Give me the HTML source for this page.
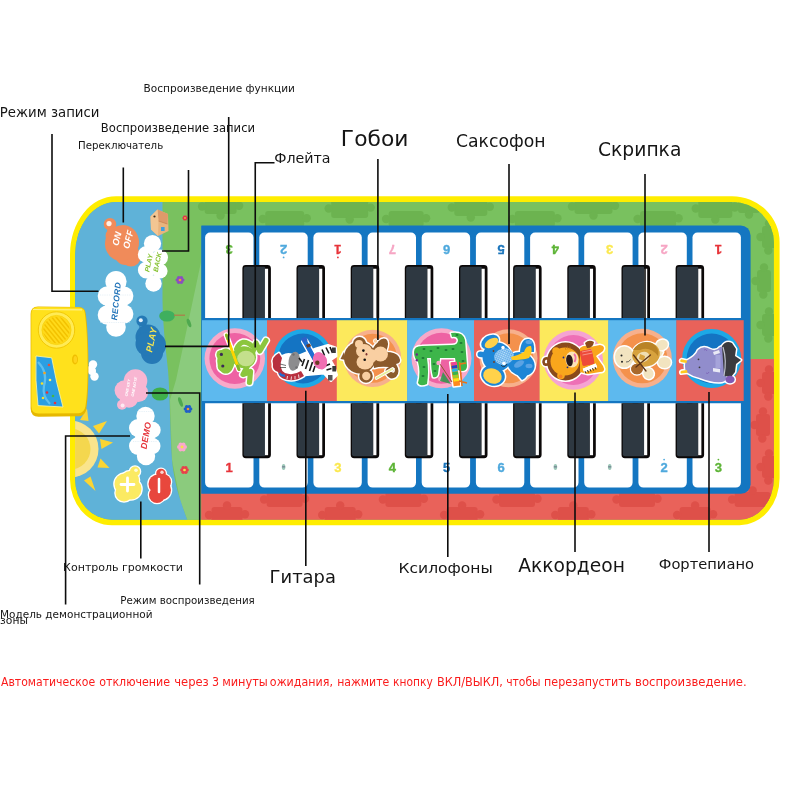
<!DOCTYPE html>
<html lang="ru"><head><meta charset="utf-8"><title>Музыкальный коврик</title>
<style>
html,body{margin:0;padding:0;background:#fff}
body{width:800px;height:800px;overflow:hidden;position:relative;font-family:"DejaVu Sans","Liberation Sans",sans-serif}
svg{position:absolute;left:0;top:0;display:block;will-change:transform}
</style></head><body>
<svg width="800" height="800" viewBox="0 0 800 800">
<defs>
<clipPath id="matclip"><path d="M116.1,202.0 H732.1 A41.8,40.5 0 0 1 773.9,242.5 V478.2 A34.3,41.5 0 0 1 739.6,519.7 H112.1 A37,40.5 0 0 1 75.1,479.2 V254.5 A41,52.5 0 0 1 116.1,202.0 Z"/></clipPath>
</defs>
<path d="M116.0,196.2 H732.1 A47.5,46 0 0 1 779.6,242.2 V478.2 A40,47 0 0 1 739.6,525.2 H112.0 A42,46 0 0 1 70.0,479.2 V254.2 A46,58 0 0 1 116.0,196.2 Z" fill="#FFED00"/>
<g clip-path="url(#matclip)">
<rect x="70" y="196" width="712" height="330" fill="#79C15F"/>
<rect x="204.6" y="199.0" width="32.0" height="15.0" rx="3" fill="#6CB350"/><circle cx="202.1" cy="206.5" r="4.2" fill="#6CB350"/><circle cx="239.1" cy="205.8" r="4.2" fill="#6CB350"/><circle cx="220.6" cy="215.5" r="4.2" fill="#6CB350"/>
<rect x="265.2" y="211.0" width="39.0" height="16.0" rx="3" fill="#6CB350"/><circle cx="262.7" cy="219.0" r="4.2" fill="#6CB350"/><circle cx="306.7" cy="218.2" r="4.2" fill="#6CB350"/><circle cx="284.7" cy="228.5" r="4.2" fill="#6CB350"/>
<rect x="331.2" y="199.0" width="37.0" height="19.0" rx="3" fill="#6CB350"/><circle cx="328.7" cy="208.5" r="4.2" fill="#6CB350"/><circle cx="370.7" cy="207.6" r="4.2" fill="#6CB350"/><circle cx="349.7" cy="219.5" r="4.2" fill="#6CB350"/>
<rect x="388.6" y="211.0" width="35.0" height="16.0" rx="3" fill="#6CB350"/><circle cx="386.1" cy="219.0" r="4.2" fill="#6CB350"/><circle cx="426.1" cy="218.2" r="4.2" fill="#6CB350"/><circle cx="406.1" cy="228.5" r="4.2" fill="#6CB350"/>
<rect x="454.3" y="199.0" width="33.0" height="17.0" rx="3" fill="#6CB350"/><circle cx="451.8" cy="207.5" r="4.2" fill="#6CB350"/><circle cx="489.8" cy="206.7" r="4.2" fill="#6CB350"/><circle cx="470.8" cy="217.5" r="4.2" fill="#6CB350"/>
<rect x="514.9" y="211.0" width="40.0" height="16.0" rx="3" fill="#6CB350"/><circle cx="512.4" cy="219.0" r="4.2" fill="#6CB350"/><circle cx="557.4" cy="218.2" r="4.2" fill="#6CB350"/><circle cx="534.9" cy="228.5" r="4.2" fill="#6CB350"/>
<rect x="574.5" y="199.0" width="38.0" height="15.0" rx="3" fill="#6CB350"/><circle cx="572.0" cy="206.5" r="4.2" fill="#6CB350"/><circle cx="615.0" cy="205.8" r="4.2" fill="#6CB350"/><circle cx="593.5" cy="215.5" r="4.2" fill="#6CB350"/>
<rect x="640.1" y="211.0" width="36.0" height="16.0" rx="3" fill="#6CB350"/><circle cx="637.6" cy="219.0" r="4.2" fill="#6CB350"/><circle cx="678.6" cy="218.2" r="4.2" fill="#6CB350"/><circle cx="658.1" cy="228.5" r="4.2" fill="#6CB350"/>
<rect x="698.3" y="199.0" width="34.0" height="19.0" rx="3" fill="#6CB350"/><circle cx="695.8" cy="208.5" r="4.2" fill="#6CB350"/><circle cx="734.8" cy="207.6" r="4.2" fill="#6CB350"/><circle cx="715.3" cy="219.5" r="4.2" fill="#6CB350"/>
<rect x="762.0" y="226.0" width="14.0" height="22.0" rx="3" fill="#6CB350"/><circle cx="769.0" cy="223.5" r="4.2" fill="#6CB350"/><circle cx="768.3" cy="250.5" r="4.2" fill="#6CB350"/><circle cx="760.5" cy="237.0" r="4.2" fill="#6CB350"/>
<rect x="757.0" y="270.0" width="14.0" height="22.0" rx="3" fill="#6CB350"/><circle cx="764.0" cy="267.5" r="4.2" fill="#6CB350"/><circle cx="763.3" cy="294.5" r="4.2" fill="#6CB350"/><circle cx="755.5" cy="281.0" r="4.2" fill="#6CB350"/>
<rect x="762.0" y="314.0" width="14.0" height="22.0" rx="3" fill="#6CB350"/><circle cx="769.0" cy="311.5" r="4.2" fill="#6CB350"/><circle cx="768.3" cy="338.5" r="4.2" fill="#6CB350"/><circle cx="760.5" cy="325.0" r="4.2" fill="#6CB350"/>
<rect x="738.0" y="199.0" width="22.0" height="14.0" rx="3" fill="#6CB350"/><circle cx="735.5" cy="206.0" r="4.2" fill="#6CB350"/><circle cx="762.5" cy="205.3" r="4.2" fill="#6CB350"/><circle cx="749.0" cy="214.5" r="4.2" fill="#6CB350"/>
<path d="M201.2,480 H740 V359 H780 V526 H201.2 Z" fill="#E9625A"/>
<rect x="211.5" y="507.0" width="31.0" height="16.0" rx="3" fill="#DE5049"/><circle cx="209.0" cy="515.0" r="4.2" fill="#DE5049"/><circle cx="245.0" cy="514.2" r="4.2" fill="#DE5049"/><circle cx="227.0" cy="505.5" r="4.2" fill="#DE5049"/>
<rect x="266.6" y="492.0" width="36.0" height="15.0" rx="3" fill="#DE5049"/><circle cx="264.1" cy="499.5" r="4.2" fill="#DE5049"/><circle cx="305.1" cy="498.8" r="4.2" fill="#DE5049"/><circle cx="284.6" cy="490.5" r="4.2" fill="#DE5049"/>
<rect x="324.7" y="507.0" width="31.0" height="16.0" rx="3" fill="#DE5049"/><circle cx="322.2" cy="515.0" r="4.2" fill="#DE5049"/><circle cx="358.2" cy="514.2" r="4.2" fill="#DE5049"/><circle cx="340.2" cy="505.5" r="4.2" fill="#DE5049"/>
<rect x="385.4" y="492.0" width="36.0" height="15.0" rx="3" fill="#DE5049"/><circle cx="382.9" cy="499.5" r="4.2" fill="#DE5049"/><circle cx="423.9" cy="498.8" r="4.2" fill="#DE5049"/><circle cx="403.4" cy="490.5" r="4.2" fill="#DE5049"/>
<rect x="446.6" y="507.0" width="31.0" height="16.0" rx="3" fill="#DE5049"/><circle cx="444.1" cy="515.0" r="4.2" fill="#DE5049"/><circle cx="480.1" cy="514.2" r="4.2" fill="#DE5049"/><circle cx="462.1" cy="505.5" r="4.2" fill="#DE5049"/>
<rect x="499.0" y="492.0" width="36.0" height="15.0" rx="3" fill="#DE5049"/><circle cx="496.5" cy="499.5" r="4.2" fill="#DE5049"/><circle cx="537.5" cy="498.8" r="4.2" fill="#DE5049"/><circle cx="517.0" cy="490.5" r="4.2" fill="#DE5049"/>
<rect x="557.8" y="507.0" width="31.0" height="16.0" rx="3" fill="#DE5049"/><circle cx="555.3" cy="515.0" r="4.2" fill="#DE5049"/><circle cx="591.3" cy="514.2" r="4.2" fill="#DE5049"/><circle cx="573.3" cy="505.5" r="4.2" fill="#DE5049"/>
<rect x="619.0" y="492.0" width="36.0" height="15.0" rx="3" fill="#DE5049"/><circle cx="616.5" cy="499.5" r="4.2" fill="#DE5049"/><circle cx="657.5" cy="498.8" r="4.2" fill="#DE5049"/><circle cx="637.0" cy="490.5" r="4.2" fill="#DE5049"/>
<rect x="679.6" y="507.0" width="31.0" height="16.0" rx="3" fill="#DE5049"/><circle cx="677.1" cy="515.0" r="4.2" fill="#DE5049"/><circle cx="713.1" cy="514.2" r="4.2" fill="#DE5049"/><circle cx="695.1" cy="505.5" r="4.2" fill="#DE5049"/>
<rect x="734.6" y="492.0" width="36.0" height="15.0" rx="3" fill="#DE5049"/><circle cx="732.1" cy="499.5" r="4.2" fill="#DE5049"/><circle cx="773.1" cy="498.8" r="4.2" fill="#DE5049"/><circle cx="752.6" cy="490.5" r="4.2" fill="#DE5049"/>
<rect x="762.0" y="372.0" width="14.0" height="22.0" rx="3" fill="#DE5049"/><circle cx="769.0" cy="369.5" r="4.2" fill="#DE5049"/><circle cx="768.3" cy="396.5" r="4.2" fill="#DE5049"/><circle cx="760.5" cy="383.0" r="4.2" fill="#DE5049"/>
<rect x="756.0" y="414.0" width="14.0" height="22.0" rx="3" fill="#DE5049"/><circle cx="763.0" cy="411.5" r="4.2" fill="#DE5049"/><circle cx="762.3" cy="438.5" r="4.2" fill="#DE5049"/><circle cx="754.5" cy="425.0" r="4.2" fill="#DE5049"/>
<rect x="762.0" y="456.0" width="14.0" height="22.0" rx="3" fill="#DE5049"/><circle cx="769.0" cy="453.5" r="4.2" fill="#DE5049"/><circle cx="768.3" cy="480.5" r="4.2" fill="#DE5049"/><circle cx="760.5" cy="467.0" r="4.2" fill="#DE5049"/>
<path d="M201,262 L201,522 L188,522 L180,500 L172,460 L170,400 L176,380 Z" fill="#8BCB7D"/>
<path d="M70,196 H162.5 V300 C163,330 166,350 168,370 C170,395 170,430 172,460 C174,480 178,495 188,522 H70 Z" fill="#5FB2D8"/>
</g>
<path d="M201.7,225.4 H740.6 A10,10 0 0 1 750.6,235.4 V484.3 A9.5,9.5 0 0 1 741.1,493.8 H201.7 A0.5,0.5 0 0 1 201.2,493.3 V225.9 A0.5,0.5 0 0 1 201.7,225.4 Z" fill="#1476C1"/>
<path d="M210.1,232.6 H248.5 A5,5 0 0 1 253.5,237.6 V318.0 A0,0 0 0 1 253.5,318.0 H205.1 A0,0 0 0 1 205.1,318.0 V237.6 A5,5 0 0 1 210.1,232.6 Z" fill="#fff"/>
<path d="M205.1,403.2 H253.5 A0,0 0 0 1 253.5,403.2 V482.6 A5,5 0 0 1 248.5,487.6 H210.1 A5,5 0 0 1 205.1,482.6 V403.2 A0,0 0 0 1 205.1,403.2 Z" fill="#fff"/>
<path d="M264.3,232.6 H302.7 A5,5 0 0 1 307.7,237.6 V318.0 A0,0 0 0 1 307.7,318.0 H259.3 A0,0 0 0 1 259.3,318.0 V237.6 A5,5 0 0 1 264.3,232.6 Z" fill="#fff"/>
<path d="M259.3,403.2 H307.7 A0,0 0 0 1 307.7,403.2 V482.6 A5,5 0 0 1 302.7,487.6 H264.3 A5,5 0 0 1 259.3,482.6 V403.2 A0,0 0 0 1 259.3,403.2 Z" fill="#fff"/>
<path d="M318.4,232.6 H356.8 A5,5 0 0 1 361.8,237.6 V318.0 A0,0 0 0 1 361.8,318.0 H313.4 A0,0 0 0 1 313.4,318.0 V237.6 A5,5 0 0 1 318.4,232.6 Z" fill="#fff"/>
<path d="M313.4,403.2 H361.8 A0,0 0 0 1 361.8,403.2 V482.6 A5,5 0 0 1 356.8,487.6 H318.4 A5,5 0 0 1 313.4,482.6 V403.2 A0,0 0 0 1 313.4,403.2 Z" fill="#fff"/>
<path d="M372.6,232.6 H411.0 A5,5 0 0 1 416.0,237.6 V318.0 A0,0 0 0 1 416.0,318.0 H367.6 A0,0 0 0 1 367.6,318.0 V237.6 A5,5 0 0 1 372.6,232.6 Z" fill="#fff"/>
<path d="M367.6,403.2 H416.0 A0,0 0 0 1 416.0,403.2 V482.6 A5,5 0 0 1 411.0,487.6 H372.6 A5,5 0 0 1 367.6,482.6 V403.2 A0,0 0 0 1 367.6,403.2 Z" fill="#fff"/>
<path d="M426.7,232.6 H465.1 A5,5 0 0 1 470.1,237.6 V318.0 A0,0 0 0 1 470.1,318.0 H421.7 A0,0 0 0 1 421.7,318.0 V237.6 A5,5 0 0 1 426.7,232.6 Z" fill="#fff"/>
<path d="M421.7,403.2 H470.1 A0,0 0 0 1 470.1,403.2 V482.6 A5,5 0 0 1 465.1,487.6 H426.7 A5,5 0 0 1 421.7,482.6 V403.2 A0,0 0 0 1 421.7,403.2 Z" fill="#fff"/>
<path d="M480.9,232.6 H519.3 A5,5 0 0 1 524.3,237.6 V318.0 A0,0 0 0 1 524.3,318.0 H475.9 A0,0 0 0 1 475.9,318.0 V237.6 A5,5 0 0 1 480.9,232.6 Z" fill="#fff"/>
<path d="M475.9,403.2 H524.3 A0,0 0 0 1 524.3,403.2 V482.6 A5,5 0 0 1 519.3,487.6 H480.9 A5,5 0 0 1 475.9,482.6 V403.2 A0,0 0 0 1 475.9,403.2 Z" fill="#fff"/>
<path d="M535.1,232.6 H573.5 A5,5 0 0 1 578.5,237.6 V318.0 A0,0 0 0 1 578.5,318.0 H530.1 A0,0 0 0 1 530.1,318.0 V237.6 A5,5 0 0 1 535.1,232.6 Z" fill="#fff"/>
<path d="M530.1,403.2 H578.5 A0,0 0 0 1 578.5,403.2 V482.6 A5,5 0 0 1 573.5,487.6 H535.1 A5,5 0 0 1 530.1,482.6 V403.2 A0,0 0 0 1 530.1,403.2 Z" fill="#fff"/>
<path d="M589.2,232.6 H627.6 A5,5 0 0 1 632.6,237.6 V318.0 A0,0 0 0 1 632.6,318.0 H584.2 A0,0 0 0 1 584.2,318.0 V237.6 A5,5 0 0 1 589.2,232.6 Z" fill="#fff"/>
<path d="M584.2,403.2 H632.6 A0,0 0 0 1 632.6,403.2 V482.6 A5,5 0 0 1 627.6,487.6 H589.2 A5,5 0 0 1 584.2,482.6 V403.2 A0,0 0 0 1 584.2,403.2 Z" fill="#fff"/>
<path d="M643.4,232.6 H681.8 A5,5 0 0 1 686.8,237.6 V318.0 A0,0 0 0 1 686.8,318.0 H638.4 A0,0 0 0 1 638.4,318.0 V237.6 A5,5 0 0 1 643.4,232.6 Z" fill="#fff"/>
<path d="M638.4,403.2 H686.8 A0,0 0 0 1 686.8,403.2 V482.6 A5,5 0 0 1 681.8,487.6 H643.4 A5,5 0 0 1 638.4,482.6 V403.2 A0,0 0 0 1 638.4,403.2 Z" fill="#fff"/>
<path d="M697.5,232.6 H735.9 A5,5 0 0 1 740.9,237.6 V318.0 A0,0 0 0 1 740.9,318.0 H692.5 A0,0 0 0 1 692.5,318.0 V237.6 A5,5 0 0 1 697.5,232.6 Z" fill="#fff"/>
<path d="M692.5,403.2 H740.9 A0,0 0 0 1 740.9,403.2 V482.6 A5,5 0 0 1 735.9,487.6 H697.5 A5,5 0 0 1 692.5,482.6 V403.2 A0,0 0 0 1 692.5,403.2 Z" fill="#fff"/>
<rect x="202" y="320.2" width="65.3" height="80.8" fill="#5DB9EE"/>
<rect x="267" y="320.2" width="70.1" height="80.8" fill="#E9625A"/>
<rect x="336.8" y="320.2" width="70.7" height="80.8" fill="#FCE95C"/>
<rect x="407.2" y="320.2" width="67.1" height="80.8" fill="#5DB9EE"/>
<rect x="474" y="320.2" width="65.9" height="80.8" fill="#E9625A"/>
<rect x="539.6" y="320.2" width="69.0" height="80.8" fill="#FCE95C"/>
<rect x="608.3" y="320.2" width="68.3" height="80.8" fill="#5DB9EE"/>
<rect x="676.3" y="320.2" width="67.4" height="80.8" fill="#E9625A"/>
<path d="M245.8,265.0 H267.5 A3.4,3.4 0 0 1 270.9,268.4 V318.0 A0,0 0 0 1 270.9,318.0 H242.4 A0,0 0 0 1 242.4,318.0 V268.4 A3.4,3.4 0 0 1 245.8,265.0 Z" fill="#0b0808"/>
<path d="M245.7,266.7 H264.5 A0.5,0.5 0 0 1 265.0,267.2 V318.0 A0,0 0 0 1 265.0,318.0 H243.7 A0,0 0 0 1 243.7,318.0 V268.7 A2,2 0 0 1 245.7,266.7 Z" fill="#2E3841"/>
<rect x="264.95" y="268.75" width="3.15" height="49.25" fill="#fdfdfd"/>
<path d="M242.4,403.2 H270.9 A0,0 0 0 1 270.9,403.2 V454.8 A3.4,3.4 0 0 1 267.5,458.2 H245.8 A3.4,3.4 0 0 1 242.4,454.8 V403.2 A0,0 0 0 1 242.4,403.2 Z" fill="#0b0808"/>
<path d="M243.7,403.2 H265.0 A0,0 0 0 1 265.0,403.2 V455.7 A0.5,0.5 0 0 1 264.5,456.2 H245.7 A2,2 0 0 1 243.7,454.2 V403.2 A0,0 0 0 1 243.7,403.2 Z" fill="#2E3841"/>
<rect x="264.95" y="403.2" width="3.15" height="52.00" fill="#fdfdfd"/>
<path d="M299.9,265.0 H321.6 A3.4,3.4 0 0 1 325.0,268.4 V318.0 A0,0 0 0 1 325.0,318.0 H296.5 A0,0 0 0 1 296.5,318.0 V268.4 A3.4,3.4 0 0 1 299.9,265.0 Z" fill="#0b0808"/>
<path d="M299.8,266.7 H318.6 A0.5,0.5 0 0 1 319.1,267.2 V318.0 A0,0 0 0 1 319.1,318.0 H297.8 A0,0 0 0 1 297.8,318.0 V268.7 A2,2 0 0 1 299.8,266.7 Z" fill="#2E3841"/>
<rect x="319.11" y="268.75" width="3.15" height="49.25" fill="#fdfdfd"/>
<path d="M296.5,403.2 H325.0 A0,0 0 0 1 325.0,403.2 V454.8 A3.4,3.4 0 0 1 321.6,458.2 H299.9 A3.4,3.4 0 0 1 296.5,454.8 V403.2 A0,0 0 0 1 296.5,403.2 Z" fill="#0b0808"/>
<path d="M297.8,403.2 H319.1 A0,0 0 0 1 319.1,403.2 V455.7 A0.5,0.5 0 0 1 318.6,456.2 H299.8 A2,2 0 0 1 297.8,454.2 V403.2 A0,0 0 0 1 297.8,403.2 Z" fill="#2E3841"/>
<rect x="319.11" y="403.2" width="3.15" height="52.00" fill="#fdfdfd"/>
<path d="M354.1,265.0 H375.8 A3.4,3.4 0 0 1 379.2,268.4 V318.0 A0,0 0 0 1 379.2,318.0 H350.7 A0,0 0 0 1 350.7,318.0 V268.4 A3.4,3.4 0 0 1 354.1,265.0 Z" fill="#0b0808"/>
<path d="M354.0,266.7 H372.8 A0.5,0.5 0 0 1 373.3,267.2 V318.0 A0,0 0 0 1 373.3,318.0 H352.0 A0,0 0 0 1 352.0,318.0 V268.7 A2,2 0 0 1 354.0,266.7 Z" fill="#2E3841"/>
<rect x="373.27" y="268.75" width="3.15" height="49.25" fill="#fdfdfd"/>
<path d="M350.7,403.2 H379.2 A0,0 0 0 1 379.2,403.2 V454.8 A3.4,3.4 0 0 1 375.8,458.2 H354.1 A3.4,3.4 0 0 1 350.7,454.8 V403.2 A0,0 0 0 1 350.7,403.2 Z" fill="#0b0808"/>
<path d="M352.0,403.2 H373.3 A0,0 0 0 1 373.3,403.2 V455.7 A0.5,0.5 0 0 1 372.8,456.2 H354.0 A2,2 0 0 1 352.0,454.2 V403.2 A0,0 0 0 1 352.0,403.2 Z" fill="#2E3841"/>
<rect x="373.27" y="403.2" width="3.15" height="52.00" fill="#fdfdfd"/>
<path d="M408.2,265.0 H429.9 A3.4,3.4 0 0 1 433.3,268.4 V318.0 A0,0 0 0 1 433.3,318.0 H404.8 A0,0 0 0 1 404.8,318.0 V268.4 A3.4,3.4 0 0 1 408.2,265.0 Z" fill="#0b0808"/>
<path d="M408.1,266.7 H426.9 A0.5,0.5 0 0 1 427.4,267.2 V318.0 A0,0 0 0 1 427.4,318.0 H406.1 A0,0 0 0 1 406.1,318.0 V268.7 A2,2 0 0 1 408.1,266.7 Z" fill="#2E3841"/>
<rect x="427.43" y="268.75" width="3.15" height="49.25" fill="#fdfdfd"/>
<path d="M404.8,403.2 H433.3 A0,0 0 0 1 433.3,403.2 V454.8 A3.4,3.4 0 0 1 429.9,458.2 H408.2 A3.4,3.4 0 0 1 404.8,454.8 V403.2 A0,0 0 0 1 404.8,403.2 Z" fill="#0b0808"/>
<path d="M406.1,403.2 H427.4 A0,0 0 0 1 427.4,403.2 V455.7 A0.5,0.5 0 0 1 426.9,456.2 H408.1 A2,2 0 0 1 406.1,454.2 V403.2 A0,0 0 0 1 406.1,403.2 Z" fill="#2E3841"/>
<rect x="427.43" y="403.2" width="3.15" height="52.00" fill="#fdfdfd"/>
<path d="M462.4,265.0 H484.1 A3.4,3.4 0 0 1 487.5,268.4 V318.0 A0,0 0 0 1 487.5,318.0 H459.0 A0,0 0 0 1 459.0,318.0 V268.4 A3.4,3.4 0 0 1 462.4,265.0 Z" fill="#0b0808"/>
<path d="M462.3,266.7 H481.1 A0.5,0.5 0 0 1 481.6,267.2 V318.0 A0,0 0 0 1 481.6,318.0 H460.3 A0,0 0 0 1 460.3,318.0 V268.7 A2,2 0 0 1 462.3,266.7 Z" fill="#2E3841"/>
<rect x="481.59" y="268.75" width="3.15" height="49.25" fill="#fdfdfd"/>
<path d="M459.0,403.2 H487.5 A0,0 0 0 1 487.5,403.2 V454.8 A3.4,3.4 0 0 1 484.1,458.2 H462.4 A3.4,3.4 0 0 1 459.0,454.8 V403.2 A0,0 0 0 1 459.0,403.2 Z" fill="#0b0808"/>
<path d="M460.3,403.2 H481.6 A0,0 0 0 1 481.6,403.2 V455.7 A0.5,0.5 0 0 1 481.1,456.2 H462.3 A2,2 0 0 1 460.3,454.2 V403.2 A0,0 0 0 1 460.3,403.2 Z" fill="#2E3841"/>
<rect x="481.59" y="403.2" width="3.15" height="52.00" fill="#fdfdfd"/>
<path d="M516.5,265.0 H538.2 A3.4,3.4 0 0 1 541.6,268.4 V318.0 A0,0 0 0 1 541.6,318.0 H513.1 A0,0 0 0 1 513.1,318.0 V268.4 A3.4,3.4 0 0 1 516.5,265.0 Z" fill="#0b0808"/>
<path d="M516.4,266.7 H535.2 A0.5,0.5 0 0 1 535.8,267.2 V318.0 A0,0 0 0 1 535.8,318.0 H514.4 A0,0 0 0 1 514.4,318.0 V268.7 A2,2 0 0 1 516.4,266.7 Z" fill="#2E3841"/>
<rect x="535.75" y="268.75" width="3.15" height="49.25" fill="#fdfdfd"/>
<path d="M513.1,403.2 H541.6 A0,0 0 0 1 541.6,403.2 V454.8 A3.4,3.4 0 0 1 538.2,458.2 H516.5 A3.4,3.4 0 0 1 513.1,454.8 V403.2 A0,0 0 0 1 513.1,403.2 Z" fill="#0b0808"/>
<path d="M514.4,403.2 H535.8 A0,0 0 0 1 535.8,403.2 V455.7 A0.5,0.5 0 0 1 535.2,456.2 H516.4 A2,2 0 0 1 514.4,454.2 V403.2 A0,0 0 0 1 514.4,403.2 Z" fill="#2E3841"/>
<rect x="535.75" y="403.2" width="3.15" height="52.00" fill="#fdfdfd"/>
<path d="M570.7,265.0 H592.4 A3.4,3.4 0 0 1 595.8,268.4 V318.0 A0,0 0 0 1 595.8,318.0 H567.3 A0,0 0 0 1 567.3,318.0 V268.4 A3.4,3.4 0 0 1 570.7,265.0 Z" fill="#0b0808"/>
<path d="M570.6,266.7 H589.4 A0.5,0.5 0 0 1 589.9,267.2 V318.0 A0,0 0 0 1 589.9,318.0 H568.6 A0,0 0 0 1 568.6,318.0 V268.7 A2,2 0 0 1 570.6,266.7 Z" fill="#2E3841"/>
<rect x="589.91" y="268.75" width="3.15" height="49.25" fill="#fdfdfd"/>
<path d="M567.3,403.2 H595.8 A0,0 0 0 1 595.8,403.2 V454.8 A3.4,3.4 0 0 1 592.4,458.2 H570.7 A3.4,3.4 0 0 1 567.3,454.8 V403.2 A0,0 0 0 1 567.3,403.2 Z" fill="#0b0808"/>
<path d="M568.6,403.2 H589.9 A0,0 0 0 1 589.9,403.2 V455.7 A0.5,0.5 0 0 1 589.4,456.2 H570.6 A2,2 0 0 1 568.6,454.2 V403.2 A0,0 0 0 1 568.6,403.2 Z" fill="#2E3841"/>
<rect x="589.91" y="403.2" width="3.15" height="52.00" fill="#fdfdfd"/>
<path d="M624.9,265.0 H646.6 A3.4,3.4 0 0 1 650.0,268.4 V318.0 A0,0 0 0 1 650.0,318.0 H621.5 A0,0 0 0 1 621.5,318.0 V268.4 A3.4,3.4 0 0 1 624.9,265.0 Z" fill="#0b0808"/>
<path d="M624.8,266.7 H643.6 A0.5,0.5 0 0 1 644.1,267.2 V318.0 A0,0 0 0 1 644.1,318.0 H622.8 A0,0 0 0 1 622.8,318.0 V268.7 A2,2 0 0 1 624.8,266.7 Z" fill="#2E3841"/>
<rect x="644.07" y="268.75" width="3.15" height="49.25" fill="#fdfdfd"/>
<path d="M621.5,403.2 H650.0 A0,0 0 0 1 650.0,403.2 V454.8 A3.4,3.4 0 0 1 646.6,458.2 H624.9 A3.4,3.4 0 0 1 621.5,454.8 V403.2 A0,0 0 0 1 621.5,403.2 Z" fill="#0b0808"/>
<path d="M622.8,403.2 H644.1 A0,0 0 0 1 644.1,403.2 V455.7 A0.5,0.5 0 0 1 643.6,456.2 H624.8 A2,2 0 0 1 622.8,454.2 V403.2 A0,0 0 0 1 622.8,403.2 Z" fill="#2E3841"/>
<rect x="644.07" y="403.2" width="3.15" height="52.00" fill="#fdfdfd"/>
<path d="M679.0,265.0 H700.7 A3.4,3.4 0 0 1 704.1,268.4 V318.0 A0,0 0 0 1 704.1,318.0 H675.6 A0,0 0 0 1 675.6,318.0 V268.4 A3.4,3.4 0 0 1 679.0,265.0 Z" fill="#0b0808"/>
<path d="M678.9,266.7 H697.7 A0.5,0.5 0 0 1 698.2,267.2 V318.0 A0,0 0 0 1 698.2,318.0 H676.9 A0,0 0 0 1 676.9,318.0 V268.7 A2,2 0 0 1 678.9,266.7 Z" fill="#2E3841"/>
<rect x="698.23" y="268.75" width="3.15" height="49.25" fill="#fdfdfd"/>
<path d="M675.6,403.2 H704.1 A0,0 0 0 1 704.1,403.2 V454.8 A3.4,3.4 0 0 1 700.7,458.2 H679.0 A3.4,3.4 0 0 1 675.6,454.8 V403.2 A0,0 0 0 1 675.6,403.2 Z" fill="#0b0808"/>
<path d="M676.9,403.2 H698.2 A0,0 0 0 1 698.2,403.2 V455.7 A0.5,0.5 0 0 1 697.7,456.2 H678.9 A2,2 0 0 1 676.9,454.2 V403.2 A0,0 0 0 1 676.9,403.2 Z" fill="#2E3841"/>
<rect x="698.23" y="403.2" width="3.15" height="52.00" fill="#fdfdfd"/>
<g transform="rotate(180 229.2 250)"><text x="229.2" y="254.7" text-anchor="middle" font-family="Liberation Sans, sans-serif" font-weight="bold" font-size="13" stroke-width="0.35" fill="#5DB436" stroke="#5DB436">3</text></g>
<g transform="rotate(180 283.6 250)"><text x="283.6" y="254.7" text-anchor="middle" font-family="Liberation Sans, sans-serif" font-weight="bold" font-size="13" stroke-width="0.35" fill="#4FA9DD" stroke="#4FA9DD">2</text><circle cx="283.6" cy="242.6" r="0.9" fill="#4FA9DD"/></g>
<g transform="rotate(180 337.9 250)"><text x="337.9" y="254.7" text-anchor="middle" font-family="Liberation Sans, sans-serif" font-weight="bold" font-size="13" stroke-width="0.35" fill="#E73339" stroke="#E73339">1</text><circle cx="337.9" cy="242.6" r="0.9" fill="#E73339"/></g>
<g transform="rotate(180 392.3 250)"><text x="392.3" y="254.7" text-anchor="middle" font-family="Liberation Sans, sans-serif" font-weight="bold" font-size="13" stroke-width="0.35" fill="#F6A6C4" stroke="#F6A6C4">7</text></g>
<g transform="rotate(180 446.6 250)"><text x="446.6" y="254.7" text-anchor="middle" font-family="Liberation Sans, sans-serif" font-weight="bold" font-size="13" stroke-width="0.35" fill="#4FA9DD" stroke="#4FA9DD">6</text></g>
<g transform="rotate(180 501.0 250)"><text x="501.0" y="254.7" text-anchor="middle" font-family="Liberation Sans, sans-serif" font-weight="bold" font-size="13" stroke-width="0.35" fill="#1B75BC" stroke="#1B75BC">5</text></g>
<g transform="rotate(180 555.4 250)"><text x="555.4" y="254.7" text-anchor="middle" font-family="Liberation Sans, sans-serif" font-weight="bold" font-size="13" stroke-width="0.35" fill="#5DB436" stroke="#5DB436">4</text></g>
<g transform="rotate(180 609.7 250)"><text x="609.7" y="254.7" text-anchor="middle" font-family="Liberation Sans, sans-serif" font-weight="bold" font-size="13" stroke-width="0.35" fill="#FBE84E" stroke="#FBE84E">3</text></g>
<g transform="rotate(180 664.1 250)"><text x="664.1" y="254.7" text-anchor="middle" font-family="Liberation Sans, sans-serif" font-weight="bold" font-size="13" stroke-width="0.35" fill="#F6A6C4" stroke="#F6A6C4">2</text></g>
<g transform="rotate(180 718.4 250)"><text x="718.4" y="254.7" text-anchor="middle" font-family="Liberation Sans, sans-serif" font-weight="bold" font-size="13" stroke-width="0.35" fill="#E73339" stroke="#E73339">1</text></g>
<text x="229.2" y="471.8" text-anchor="middle" font-family="Liberation Sans, sans-serif" font-weight="bold" font-size="13" stroke-width="0.35" fill="#E73339" stroke="#E73339">1</text>
<ellipse cx="283.6" cy="467" rx="1.8" ry="3" fill="#9cc7b8"/><rect x="282.1" y="466" width="3" height="1.6" fill="#7d8f9a"/>
<text x="337.9" y="471.8" text-anchor="middle" font-family="Liberation Sans, sans-serif" font-weight="bold" font-size="13" stroke-width="0.35" fill="#FBE84E" stroke="#FBE84E">3</text>
<text x="392.3" y="471.8" text-anchor="middle" font-family="Liberation Sans, sans-serif" font-weight="bold" font-size="13" stroke-width="0.35" fill="#5DB436" stroke="#5DB436">4</text>
<text x="446.6" y="471.8" text-anchor="middle" font-family="Liberation Sans, sans-serif" font-weight="bold" font-size="13" stroke-width="0.35" fill="#1B75BC" stroke="#1B75BC">5</text>
<text x="501.0" y="471.8" text-anchor="middle" font-family="Liberation Sans, sans-serif" font-weight="bold" font-size="13" stroke-width="0.35" fill="#4FA9DD" stroke="#4FA9DD">6</text>
<ellipse cx="555.4" cy="467" rx="1.8" ry="3" fill="#9cc7b8"/><rect x="553.9" y="466" width="3" height="1.6" fill="#7d8f9a"/>
<ellipse cx="609.7" cy="467" rx="1.8" ry="3" fill="#9cc7b8"/><rect x="608.2" y="466" width="3" height="1.6" fill="#7d8f9a"/>
<text x="664.1" y="471.8" text-anchor="middle" font-family="Liberation Sans, sans-serif" font-weight="bold" font-size="13" stroke-width="0.35" fill="#4FA9DD" stroke="#4FA9DD">2</text><circle cx="664.1" cy="459.6" r="0.9" fill="#4FA9DD"/>
<text x="718.4" y="471.8" text-anchor="middle" font-family="Liberation Sans, sans-serif" font-weight="bold" font-size="13" stroke-width="0.35" fill="#5DB436" stroke="#5DB436">3</text><circle cx="718.4" cy="459.6" r="0.9" fill="#5DB436"/>
<circle cx="234.8" cy="358.5" r="30.2" fill="#F8A9C9"/><circle cx="234.8" cy="358.5" r="25.4" fill="#EE62A3"/>
<circle cx="303" cy="358.5" r="29.3" fill="#1DA8E6"/><circle cx="303" cy="358.5" r="25" fill="#1474C3"/>
<circle cx="372.6" cy="358.3" r="28.6" fill="#F7B08C"/><circle cx="372.6" cy="358.3" r="24.5" fill="#F4914C"/>
<circle cx="441.5" cy="358.3" r="30" fill="#F8A9C9"/><circle cx="441.5" cy="358.3" r="25.5" fill="#EE62A3"/>
<circle cx="508.5" cy="358.3" r="29" fill="#F7B08C"/><circle cx="508.5" cy="358.3" r="25" fill="#F4914C"/>
<circle cx="573.3" cy="360" r="29.7" fill="#F5A3D2"/><circle cx="573.3" cy="360" r="25" fill="#EE6FB6"/>
<circle cx="642.3" cy="358.3" r="29.5" fill="#F7B08C"/><circle cx="642.3" cy="358.3" r="25" fill="#F4914C"/>
<circle cx="711.7" cy="358.5" r="29.5" fill="#1DA8E6"/><circle cx="711.7" cy="358.5" r="25" fill="#1474C3"/>
<g stroke="#fff" stroke-width="3" stroke-linejoin="round" stroke-linecap="round"><ellipse cx="225.8" cy="361" rx="8.6" ry="12.6" fill="#fff"/><circle cx="221.3" cy="354.8" r="4.9" fill="#fff"/><circle cx="222.6" cy="366.6" r="4.9" fill="#fff"/><ellipse cx="244" cy="357.2" rx="12" ry="11" fill="#fff"/><path d="M236.5,349 Q242,337 252,346" fill="none" stroke="#fff" stroke-width="8.0" stroke-linecap="round"/><path d="M252.5,353 L256,343 L259.8,351 L266,340.5" fill="none" stroke="#fff" stroke-width="8.2" stroke-linecap="round" stroke-linejoin="round"/><path d="M247.5,366 L243,374.5 L250.5,371.5 L249.5,382.5" fill="none" stroke="#fff" stroke-width="8.2" stroke-linecap="round" stroke-linejoin="round"/><path d="M226.3,335 L239,369.5" stroke="#fff" stroke-width="5.4" fill="none" stroke-linecap="round"/></g>
<g><ellipse cx="225.8" cy="361" rx="8.6" ry="12.6" fill="#8CC63E"/><circle cx="221.3" cy="354.8" r="4.9" fill="#8CC63E"/><circle cx="222.6" cy="366.6" r="4.9" fill="#8CC63E"/><ellipse cx="244" cy="357.2" rx="12" ry="11" fill="#8CC63E"/><path d="M236.5,349 Q242,337 252,346" fill="none" stroke="#8CC63E" stroke-width="5" stroke-linecap="round"/><path d="M252.5,353 L256,343 L259.8,351 L266,340.5" fill="none" stroke="#8CC63E" stroke-width="5.2" stroke-linecap="round" stroke-linejoin="round"/><path d="M247.5,366 L243,374.5 L250.5,371.5 L249.5,382.5" fill="none" stroke="#8CC63E" stroke-width="5.2" stroke-linecap="round" stroke-linejoin="round"/><path d="M226.3,335 L239,369.5" stroke="#FFD400" stroke-width="2.4" fill="none" stroke-linecap="round"/></g>
<g><ellipse cx="246" cy="358.5" rx="8.8" ry="7.8" fill="#C4E08C"/><circle cx="221.4" cy="354.4" r="1.6" fill="#3A2A55"/><circle cx="222.8" cy="366" r="1.6" fill="#3A2A55"/><path d="M226.3,335 L239,369.5" stroke="#FFD400" stroke-width="2.4" fill="none" stroke-linecap="round"/><path d="M226.3,335 L227.8,339" stroke="#7DB52F" stroke-width="2.6" stroke-linecap="round"/><path d="M237.6,366 L239,369.5" stroke="#7DB52F" stroke-width="3" stroke-linecap="round"/></g>
<g stroke="#fff" stroke-width="3" stroke-linejoin="round" stroke-linecap="round"><ellipse cx="288.5" cy="366" rx="11" ry="11.5" transform="rotate(15 288.5 366)" fill="#fff"/><path d="M297,357 L316,349 L328,345.5 L335.5,348 L336,356 L330,360 L334,367 L336.5,375 L331,380.5 L324,373 L302,375 Z" fill="#fff"/><path d="M279,353 Q271,357 273,364 Q272,370 278,372 Q279,378 286,379.5 Q295,382 304,376 L301,371 Q293,376 285,373 Q278,369 282,358 Z" fill="#fff"/><path d="M302.5,341.5 L306.5,340 L318,361 L314.5,363 Z" fill="#fff"/><ellipse cx="320" cy="360.8" rx="6.8" ry="8.8" transform="rotate(-25 320 360.8)" fill="#fff"/></g>
<g><ellipse cx="288.5" cy="366" rx="11" ry="11.5" transform="rotate(15 288.5 366)" fill="#FFFFFF"/><path d="M297,357 L316,349 L328,345.5 L335.5,348 L336,356 L330,360 L334,367 L336.5,375 L331,380.5 L324,373 L302,375 Z" fill="#FFFFFF"/><path d="M279,353 Q271,357 273,364 Q272,370 278,372 Q279,378 286,379.5 Q295,382 304,376 L301,371 Q293,376 285,373 Q278,369 282,358 Z" fill="#B8303F"/><path d="M302.5,341.5 L306.5,340 L318,361 L314.5,363 Z" fill="#1F6FD2"/><ellipse cx="320" cy="360.8" rx="6.8" ry="8.8" transform="rotate(-25 320 360.8)" fill="#F06FB2"/></g>
<g><ellipse cx="294.2" cy="361.2" rx="5.6" ry="9.6" transform="rotate(10 294.2 361.2)" fill="#8C8C8E"/><circle cx="296.5" cy="367.5" r="1.3" fill="#6f6f72"/><circle cx="293.5" cy="354.5" r="1.2" fill="#6f6f72"/><path d="M302,366 l2.5,-7 M305.5,369 l3,-9 M309.5,371 l3,-9 M313,372 l2,-6 M322,349.5 l2.5,6 M326,347.5 l3,6 M330,347 l2.5,6 M325,366 l5,-2 M326.5,370 l5,-1.5 M299,358 l3,4" stroke="#1a1a1a" stroke-width="1.6" fill="none"/><path d="M302.5,341.5 L306.5,340 L318,361 L314.5,363 Z" fill="#1F6FD2"/><path d="M301,338.5 l5,-2 l1.8,4 l-5,2z" fill="#2d62c8"/><path d="M306,345 l3.8,-1.5 l1.4,2.8 l-3.8,1.5z" fill="#6B3B22"/><ellipse cx="320" cy="360.8" rx="6.8" ry="8.8" transform="rotate(-25 320 360.8)" fill="#F06FB2"/><circle cx="317.3" cy="362.8" r="2.2" fill="#6B3B22"/><rect x="332" y="347.5" width="3.8" height="5.5" fill="#3a3a3a"/><rect x="328" y="375" width="4.5" height="5.5" fill="#555"/><rect x="332.3" y="366" width="3.8" height="5.5" fill="#3a3a3a"/><path d="M280,364 l6,1.5 M280,367.5 l6,0" stroke="#333" stroke-width="0.7"/><path d="M279.5,373 q2,3.5 5.5,2.5" stroke="#1F6FD2" stroke-width="2.2" fill="none"/><path d="M287,379 l0.5,-3 M291,380 l0.5,-3.5 M295,379.5 l0,-3.5 M299,378 l-0.5,-3.5" stroke="#fff" stroke-width="0.8"/></g>
<g stroke="#fff" stroke-width="3" stroke-linejoin="round" stroke-linecap="round"><path d="M344,352 L340.5,359 L346,360 Z" fill="#fff"/><circle cx="360" cy="357.5" r="16" fill="#fff"/><circle cx="359.5" cy="343.5" r="6.5" fill="#fff"/><circle cx="366" cy="376" r="6.8" fill="#fff"/><path d="M372,350 Q380,336 386,339 Q390,342 386,352 Q396,352 399,357 Q402,363 396,364 Q401,372 396,377 Q390,381 386,374 Q384,369 389,367 Q380,366 374,368 Z" fill="#fff"/></g>
<g><path d="M344,352 L340.5,359 L346,360 Z" fill="#8B5A2C"/><circle cx="360" cy="357.5" r="16" fill="#8B5A2C"/><circle cx="359.5" cy="343.5" r="6.5" fill="#8B5A2C"/><circle cx="366" cy="376" r="6.8" fill="#8B5A2C"/><path d="M372,350 Q380,336 386,339 Q390,342 386,352 Q396,352 399,357 Q402,363 396,364 Q401,372 396,377 Q390,381 386,374 Q384,369 389,367 Q380,366 374,368 Z" fill="#8B5A2C"/></g>
<g><circle cx="359" cy="344" r="4" fill="#F9CFA2"/><circle cx="366.3" cy="376" r="4.2" fill="#F9CFA2"/><ellipse cx="364" cy="351" rx="8" ry="7" fill="#F9CFA2"/><ellipse cx="365" cy="362" rx="8.5" ry="7.5" fill="#F9CFA2"/><ellipse cx="380.5" cy="354" rx="7.5" ry="7.5" fill="#F9CFA2"/><ellipse cx="371" cy="356" rx="6" ry="7" fill="#F9CFA2"/><circle cx="363.4" cy="350.6" r="1.3" fill="#111"/><circle cx="364.7" cy="359.7" r="1.3" fill="#111"/><ellipse cx="366.5" cy="354.3" rx="0.9" ry="1.3" fill="#7a2f2f"/><path d="M376.5,378 L392.5,369" stroke="#fff" stroke-width="3.6" stroke-linecap="round"/><path d="M376.5,378 L392.5,369" stroke="#E8EE9A" stroke-width="2" stroke-linecap="round"/><circle cx="375.5" cy="341" r="2.2" fill="#F9CFA2" stroke="#fff" stroke-width="0.8"/><path d="M391,371 q4,3 3,-3" stroke="#fff" stroke-width="1.4" fill="none"/></g>
<g stroke="#fff" stroke-width="3" stroke-linejoin="round" stroke-linecap="round"><path d="M414,352 Q414,346 422,346 L452,345 Q458,345 458,340 Q457,336 452,337 L451,333 Q463,331 465,340 L467,366 Q467,371 462,371 L457,370 L455,358 L440,358 L438,374 Q437,378 433,377 Q431,370 431,358 L427,358 Q429,372 427,384 Q420,387 418,383 Q421,372 418,362 Q414,358 414,352 Z" fill="#fff"/><rect x="452" y="362" width="6.5" height="24" transform="rotate(-8 455 374)" fill="#fff"/></g>
<g><path d="M414,352 Q414,346 422,346 L452,345 Q458,345 458,340 Q457,336 452,337 L451,333 Q463,331 465,340 L467,366 Q467,371 462,371 L457,370 L455,358 L440,358 L438,374 Q437,378 433,377 Q431,370 431,358 L427,358 Q429,372 427,384 Q420,387 418,383 Q421,372 418,362 Q414,358 414,352 Z" fill="#3DB54A"/><rect x="452" y="362" width="6.5" height="24" transform="rotate(-8 455 374)" fill="#FF8A1F"/></g>
<g><ellipse cx="424" cy="349" rx="1.5" ry="1" fill="#1E7A35"/><ellipse cx="431" cy="351" rx="1.5" ry="1" fill="#1E7A35"/><ellipse cx="438" cy="348" rx="1.5" ry="1" fill="#1E7A35"/><ellipse cx="446" cy="350" rx="1.5" ry="1" fill="#1E7A35"/><ellipse cx="453" cy="349" rx="1.5" ry="1" fill="#1E7A35"/><ellipse cx="461" cy="343" rx="1.5" ry="1" fill="#1E7A35"/><ellipse cx="462" cy="352" rx="1.5" ry="1" fill="#1E7A35"/><ellipse cx="463" cy="361" rx="1.5" ry="1" fill="#1E7A35"/><ellipse cx="423" cy="358" rx="1.5" ry="1" fill="#1E7A35"/><ellipse cx="424" cy="367" rx="1.5" ry="1" fill="#1E7A35"/><ellipse cx="423" cy="376" rx="1.5" ry="1" fill="#1E7A35"/><ellipse cx="434" cy="364" rx="1.5" ry="1" fill="#1E7A35"/><ellipse cx="435" cy="371" rx="1.5" ry="1" fill="#1E7A35"/><ellipse cx="457" cy="335" rx="1.5" ry="1" fill="#1E7A35"/><circle cx="416.8" cy="354.5" r="1.2" fill="#6B2A8A"/><circle cx="416.8" cy="360.3" r="1.2" fill="#6B2A8A"/><rect x="452.6" y="362.0" width="5.6" height="3.1" transform="rotate(-8 455 374)" fill="#F0409A"/><rect x="452.6" y="365.3" width="5.6" height="3.1" transform="rotate(-8 455 374)" fill="#2B3FC8"/><rect x="452.6" y="368.6" width="5.6" height="3.1" transform="rotate(-8 455 374)" fill="#22B8E8"/><rect x="452.6" y="371.9" width="5.6" height="3.1" transform="rotate(-8 455 374)" fill="#38B54A"/><rect x="452.6" y="375.2" width="5.6" height="3.1" transform="rotate(-8 455 374)" fill="#9AD12A"/><rect x="452.6" y="378.5" width="5.6" height="3.1" transform="rotate(-8 455 374)" fill="#FFE31A"/><rect x="452.6" y="381.8" width="5.6" height="3.1" transform="rotate(-8 455 374)" fill="#FF8A1F"/><path d="M459.5,362 L462,386 M459,381 L467,383 M460,364 L466,363" stroke="#E8731A" stroke-width="1.6" fill="none"/><path d="M440,364 L452,382" stroke="#8B5A2C" stroke-width="1"/><circle cx="438.5" cy="363" r="2.2" fill="#F7A6C8"/><circle cx="440.5" cy="379" r="2.4" fill="#F7A6C8"/><path d="M443,372 L451,384 L440,381 Z" fill="#2A9A4A" opacity="0.85"/></g>
<g stroke="#fff" stroke-width="3" stroke-linejoin="round" stroke-linecap="round"><circle cx="497" cy="357" r="14.5" fill="#fff"/><ellipse cx="490" cy="342" rx="9.5" ry="6.5" transform="rotate(-30 490 342)" fill="#fff"/><ellipse cx="493" cy="375.5" rx="12" ry="10" transform="rotate(20 493 375.5)" fill="#fff"/><path d="M484,352 Q477,350 477.5,355 Q478,358 484,357 Z" fill="#fff"/><ellipse cx="521" cy="364" rx="14" ry="11.5" transform="rotate(25 521 364)" fill="#fff"/><path d="M520,352 Q521,338 529,339 Q535,340 534,352 Z" fill="#fff"/><path d="M515,372 L522,380 Q527,378 528,372 Z" fill="#fff"/></g>
<g><circle cx="497" cy="357" r="14.5" fill="#1E86D6"/><ellipse cx="490" cy="342" rx="9.5" ry="6.5" transform="rotate(-30 490 342)" fill="#1E86D6"/><ellipse cx="493" cy="375.5" rx="12" ry="10" transform="rotate(20 493 375.5)" fill="#1E86D6"/><path d="M484,352 Q477,350 477.5,355 Q478,358 484,357 Z" fill="#1E86D6"/><ellipse cx="521" cy="364" rx="14" ry="11.5" transform="rotate(25 521 364)" fill="#1E86D6"/><path d="M520,352 Q521,338 529,339 Q535,340 534,352 Z" fill="#1E86D6"/><path d="M515,372 L522,380 Q527,378 528,372 Z" fill="#1E86D6"/></g>
<g><ellipse cx="491.5" cy="343" rx="7.5" ry="4.2" transform="rotate(-30 491.5 343)" fill="#FFD24A"/><ellipse cx="492.5" cy="376" rx="9.5" ry="7.5" transform="rotate(20 492.5 376)" fill="#FFD24A"/><pattern id="chk" width="2.4" height="2.4" patternUnits="userSpaceOnUse" patternTransform="rotate(40)"><rect width="2.4" height="2.4" fill="#BFE3FA"/><rect width="1.2" height="1.2" fill="#4E9FE6"/><rect x="1.2" y="1.2" width="1.2" height="1.2" fill="#4E9FE6"/></pattern><ellipse cx="504" cy="356.5" rx="10" ry="8" transform="rotate(-15 504 356.5)" fill="url(#chk)"/><path d="M511,357 Q519,355 524,352 Q526,345 531,346 Q533,352 529,358 Q522,360 512,360 Z" fill="#FFC81F"/><ellipse cx="529" cy="342" rx="3.5" ry="2" fill="#5AA3E4"/><ellipse cx="519" cy="364" rx="5.5" ry="2.8" transform="rotate(-30 519 364)" fill="#5AA3E4"/><ellipse cx="529" cy="366" rx="3.5" ry="2.2" fill="#5AA3E4"/><circle cx="493.5" cy="351" r="0.9" fill="#7A3A1A"/><circle cx="494" cy="362" r="0.9" fill="#7A3A1A"/><circle cx="503" cy="347.5" r="1.7" fill="#fff"/><circle cx="504" cy="363.5" r="1.8" fill="#fff"/><path d="M501,365 q3,4 6,-1" stroke="#222" stroke-width="0.7" fill="none"/></g>
<g stroke="#fff" stroke-width="3" stroke-linejoin="round" stroke-linecap="round"><path d="M551,360 Q544,356 543.5,362 Q544,366 549,364" fill="none" stroke="#fff" stroke-width="5.6" stroke-linecap="round"/><ellipse cx="565.5" cy="361.5" rx="18.5" ry="19" fill="#fff"/><path d="M580,348 Q585,344 590,347 L600,345 Q606,346 603,351 L596,356 L603,366 Q606,372 600,372 L588,374 L580,372 Z" fill="#fff"/><path d="M585,343 Q589,339 594,342 Q593,348 587,348 Z" fill="#fff"/><rect x="581" y="350" width="12" height="15" rx="1.5" transform="rotate(-12 587 357)" fill="#fff"/><rect x="583" y="366" width="14" height="4" transform="rotate(-22 590 368)" fill="#fff"/></g>
<g><path d="M551,360 Q544,356 543.5,362 Q544,366 549,364" fill="none" stroke="#8A4A1B" stroke-width="2.6" stroke-linecap="round"/><ellipse cx="565.5" cy="361.5" rx="18.5" ry="19" fill="#8A4A1B"/><path d="M580,348 Q585,344 590,347 L600,345 Q606,346 603,351 L596,356 L603,366 Q606,372 600,372 L588,374 L580,372 Z" fill="#F9A61C"/><path d="M585,343 Q589,339 594,342 Q593,348 587,348 Z" fill="#8A4A1B"/><rect x="581" y="350" width="12" height="15" rx="1.5" transform="rotate(-12 587 357)" fill="#EE4B3A"/><rect x="583" y="366" width="14" height="4" transform="rotate(-22 590 368)" fill="#FFFFFF"/></g>
<g><ellipse cx="565" cy="361.5" rx="14.5" ry="14" fill="#F9A61C"/><circle cx="556" cy="351" r="3.8" fill="#F9A61C"/><circle cx="561" cy="375.5" r="3.8" fill="#F9A61C"/><circle cx="560.5" cy="376.5" r="2" fill="#F58220"/><ellipse cx="572" cy="359.5" rx="6.5" ry="8" fill="#FBE3B8"/><ellipse cx="569.5" cy="360.5" rx="3.3" ry="5.8" transform="rotate(-8 569.5 360.5)" fill="#2A1A1A"/><path d="M574,354 q3,3 0.5,8" stroke="#F06FA8" stroke-width="1.8" fill="none"/><circle cx="563.5" cy="357.5" r="0.9" fill="#1a2a8a"/><circle cx="567.5" cy="367.3" r="0.9" fill="#1a2a8a"/><path d="M565,347 l1,3 m1.5,-3.5 l0.5,3 m2,-3 l0,3" stroke="#C77A12" stroke-width="0.7"/><rect x="581" y="350" width="12" height="15" rx="1.5" transform="rotate(-12 587 357)" fill="#EE4B3A"/><path d="M582,352 l10,-2 M582.5,355 l10,-2" stroke="#F7A59A" stroke-width="0.8"/><rect x="583" y="366" width="14" height="4" transform="rotate(-22 590 368)" fill="#FFFFFF"/><path d="M585,371 l1,2.5 M587.5,370 l1,2.5 M590,369 l1,2.5 M592.5,368 l1,2.5 M595,367 l1,2.5" stroke="#222" stroke-width="0.9"/></g>
<g stroke="#fff" stroke-width="3" stroke-linejoin="round" stroke-linecap="round"><ellipse cx="624.3" cy="357" rx="9.3" ry="10.6" fill="#fff"/><ellipse cx="662" cy="345" rx="6" ry="5" transform="rotate(-25 662 345)" fill="#fff"/><ellipse cx="664.5" cy="362.5" rx="6.3" ry="5.6" fill="#fff"/><ellipse cx="648.5" cy="373.5" rx="5" ry="5.5" transform="rotate(-30 648.5 373.5)" fill="#fff"/><path d="M657,350 l6,2 l-2,4 l-5,-1z" fill="#fff"/><ellipse cx="646" cy="354.5" rx="14" ry="12" transform="rotate(-15 646 354.5)" fill="#fff"/><ellipse cx="637" cy="369" rx="5.8" ry="5.3" fill="#fff"/></g>
<g><ellipse cx="624.3" cy="357" rx="9.3" ry="10.6" fill="#F2E4C0"/><ellipse cx="662" cy="345" rx="6" ry="5" transform="rotate(-25 662 345)" fill="#F2E4C0"/><ellipse cx="664.5" cy="362.5" rx="6.3" ry="5.6" fill="#F2E4C0"/><ellipse cx="648.5" cy="373.5" rx="5" ry="5.5" transform="rotate(-30 648.5 373.5)" fill="#F2E4C0"/><path d="M657,350 l6,2 l-2,4 l-5,-1z" fill="#F2E4C0"/><ellipse cx="646" cy="354.5" rx="14" ry="12" transform="rotate(-15 646 354.5)" fill="#D7A23E"/><ellipse cx="637" cy="369" rx="5.8" ry="5.3" fill="#A9692B"/></g>
<g><path d="M633,350 Q640,339 652,343 Q660,348 658,356 Q650,346 640,350 Z" fill="#B98326"/><ellipse cx="643" cy="357" rx="6.5" ry="5" transform="rotate(-20 643 357)" fill="#F2E4C0" opacity="0.9"/><path d="M640,354 l5,2 l-1,5 l-5,-2z" fill="#D7A23E"/><circle cx="621.5" cy="355.5" r="1" fill="#222"/><circle cx="622" cy="361.8" r="1" fill="#222"/><path d="M626,362 q3,0.5 4.5,-2.5" stroke="#444" stroke-width="0.8" fill="none"/><ellipse cx="637" cy="369" rx="5.8" ry="5.3" fill="#A9692B"/><path d="M633.5,355 L646,371 M650.5,355 L636,367" stroke="#5B3418" stroke-width="1.3" stroke-linecap="round"/></g>
<g stroke="#fff" stroke-width="3" stroke-linejoin="round" stroke-linecap="round"><path d="M686,361 Q696,356 698,350 Q703,345 710,349 Q716,352 720,347 Q724,345 725,350 L726,375 Q727,381 722,382 Q712,383 700,378 Q692,376 686,372 Q684,366 686,361 Z" fill="#fff"/><path d="M687,360.5 l-5.5,-1.2 q-2,0.8 -1,2.6 l6,1.2z M687,370 l-5.5,0.8 q-2,1.2 -0.5,2.8 l6.5,-0.8z" fill="#fff"/><path d="M722,346 Q726,340 732,343 L736,349 L735,356 L741,360 L736,364 L735,372 L731,377 L724,376 Z" fill="#fff"/><ellipse cx="730" cy="379.5" rx="4.6" ry="3.8" fill="#fff"/></g>
<g><path d="M686,361 Q696,356 698,350 Q703,345 710,349 Q716,352 720,347 Q724,345 725,350 L726,375 Q727,381 722,382 Q712,383 700,378 Q692,376 686,372 Q684,366 686,361 Z" fill="#918DCC"/><path d="M687,360.5 l-5.5,-1.2 q-2,0.8 -1,2.6 l6,1.2z M687,370 l-5.5,0.8 q-2,1.2 -0.5,2.8 l6.5,-0.8z" fill="#FFC81F"/><path d="M722,346 Q726,340 732,343 L736,349 L735,356 L741,360 L736,364 L735,372 L731,377 L724,376 Z" fill="#3A3A3E"/><ellipse cx="730" cy="379.5" rx="4.6" ry="3.8" fill="#8159B3"/></g>
<g><path d="M723,347 Q727,360 724,376" stroke="#bfc2cc" stroke-width="1.2" fill="none"/><path d="M713,352 l6,-2 l1,3 l-6,2z M713,368 l7,1 l0,3.5 l-7,-1z" fill="#E9E9F5"/><rect x="715.5" y="355" width="5" height="13" fill="#A5A3DA"/><circle cx="698.5" cy="359.3" r="0.9" fill="#3a3a3a"/><circle cx="699.5" cy="367.3" r="0.9" fill="#3a3a3a"/><path d="M704,350 q2,-1.5 3,1 M706,373 q2,1.5 3,-1" stroke="#7A5FB5" stroke-width="0.8" fill="none"/></g>
<g clip-path="url(#matclip)">
<circle cx="70" cy="449" r="28.5" fill="#FAE48C"/><circle cx="70" cy="449" r="20.5" fill="#F4D74E"/>
<path d="M80,420 L88.5,421 L87,408.5 Z" fill="#FCD533"/>
<path d="M93,426 L99,433.5 L107,421 Z" fill="#FCD533"/>
<path d="M100,439 L101.5,449 L113,442.5 Z" fill="#FCD533"/>
<path d="M100.5,458.5 L97.5,467.5 L109.5,468 Z" fill="#FCD533"/>
<path d="M84,480.5 L90.5,476.5 L95.5,491 Z" fill="#FCD533"/>
<circle cx="93" cy="364.5" r="4.2" fill="#fff"/><circle cx="92" cy="371" r="4" fill="#fff"/><circle cx="94.5" cy="376.5" r="4.2" fill="#fff"/><circle cx="91" cy="368" r="3" fill="#fff"/>
</g>
<ellipse cx="167" cy="316" rx="7.8" ry="5.6" fill="#3FAF5E"/><path d="M174,315.2 H185" stroke="#B07A4A" stroke-width="1.2"/><ellipse cx="189" cy="323" rx="1.8" ry="4.5" transform="rotate(-20 189 323)" fill="#4FA94F"/>
<ellipse cx="160" cy="394" rx="8.3" ry="6.6" fill="#3FAF4B"/><ellipse cx="180.5" cy="402" rx="1.8" ry="5" transform="rotate(-20 180.5 402)" fill="#4FA94F"/>
<circle cx="186.6" cy="218.0" r="1.1" fill="#E8304A"/><circle cx="185.8" cy="219.4" r="1.1" fill="#E8304A"/><circle cx="184.2" cy="219.4" r="1.1" fill="#E8304A"/><circle cx="183.4" cy="218.0" r="1.1" fill="#E8304A"/><circle cx="184.2" cy="216.6" r="1.1" fill="#E8304A"/><circle cx="185.8" cy="216.6" r="1.1" fill="#E8304A"/><circle cx="185" cy="218" r="0.8" fill="#FFD83A"/>
<circle cx="182.7" cy="280.0" r="1.8" fill="#8B4FC0"/><circle cx="181.3" cy="282.3" r="1.8" fill="#8B4FC0"/><circle cx="178.7" cy="282.3" r="1.8" fill="#8B4FC0"/><circle cx="177.3" cy="280.0" r="1.8" fill="#8B4FC0"/><circle cx="178.7" cy="277.7" r="1.8" fill="#8B4FC0"/><circle cx="181.3" cy="277.7" r="1.8" fill="#8B4FC0"/><circle cx="180" cy="280" r="1.3" fill="#F59A2A"/>
<circle cx="190.6" cy="409.0" r="1.8" fill="#1F5FC8"/><circle cx="189.3" cy="411.3" r="1.8" fill="#1F5FC8"/><circle cx="186.7" cy="411.3" r="1.8" fill="#1F5FC8"/><circle cx="185.4" cy="409.0" r="1.8" fill="#1F5FC8"/><circle cx="186.7" cy="406.7" r="1.8" fill="#1F5FC8"/><circle cx="189.3" cy="406.7" r="1.8" fill="#1F5FC8"/><circle cx="188" cy="409" r="1.3" fill="#F59A2A"/>
<circle cx="185.0" cy="447.0" r="2.0" fill="#F9A8CC"/><circle cx="183.5" cy="449.6" r="2.0" fill="#F9A8CC"/><circle cx="180.5" cy="449.6" r="2.0" fill="#F9A8CC"/><circle cx="179.0" cy="447.0" r="2.0" fill="#F9A8CC"/><circle cx="180.5" cy="444.4" r="2.0" fill="#F9A8CC"/><circle cx="183.5" cy="444.4" r="2.0" fill="#F9A8CC"/><circle cx="182" cy="447" r="1.4" fill="#F7E04A"/>
<circle cx="187.1" cy="470.0" r="1.8" fill="#E8404A"/><circle cx="185.8" cy="472.3" r="1.8" fill="#E8404A"/><circle cx="183.2" cy="472.3" r="1.8" fill="#E8404A"/><circle cx="181.9" cy="470.0" r="1.8" fill="#E8404A"/><circle cx="183.2" cy="467.7" r="1.8" fill="#E8404A"/><circle cx="185.8" cy="467.7" r="1.8" fill="#E8404A"/><circle cx="184.5" cy="470" r="1.3" fill="#F7E04A"/>
<path d="M150.5,216.5 L157.5,209.5 L168,214 L168.5,231 L158,236 L151,229.5 Z" fill="#E9B47E"/><path d="M157.5,209.5 L168,214 L167.5,224 L158.5,221 Z" fill="#DE9A6A"/><path d="M150.5,216.5 L157.5,209.5 L158.5,221 L158,236 L151,229.5 Z" fill="#F3C592"/><circle cx="154.5" cy="216.5" r="1.1" fill="#3a2a1a"/><rect x="161" y="227" width="3.6" height="4" fill="#3FA0E0"/><path d="M158.5,221 L167.5,224" stroke="#C98452" stroke-width="0.8"/>
<circle cx="110" cy="224.2" r="6.2" fill="#F08B5A"/><circle cx="131" cy="256.5" r="10" fill="#F08B5A"/><circle cx="125.5" cy="254" r="11" fill="#F08B5A"/><circle cx="114" cy="236" r="8.5" fill="#F08B5A"/>
<ellipse cx="122" cy="243" rx="16.9" ry="18" transform="rotate(20 122 243)" fill="#F08B5A"/>
<path d="M107,229 Q112,233 117,227 L122,231 L109,241 Z" fill="#F08B5A"/>
<circle cx="109" cy="223.6" r="2.6" fill="#FFF1E8"/>
<g font-family="Liberation Sans, sans-serif" font-weight="bold" font-style="italic" font-size="9.2" fill="#fff" text-anchor="middle"><text transform="translate(120,239.5) rotate(-76)">ON</text><text transform="translate(131.3,240.3) rotate(-76)">OFF</text></g>
<circle cx="152.5" cy="243.5" r="8.6" fill="#fff"/><circle cx="146" cy="254.5" r="8.2" fill="#fff"/><circle cx="160" cy="257.5" r="8" fill="#fff"/><circle cx="146.5" cy="270" r="8.6" fill="#fff"/><circle cx="160" cy="271" r="7.6" fill="#fff"/><circle cx="153.5" cy="283.5" r="8.2" fill="#fff"/><circle cx="153" cy="262" r="9" fill="#fff"/>
<g font-family="Liberation Sans, sans-serif" font-weight="bold" font-style="italic" font-size="6.9" fill="#86C232" text-anchor="middle"><text transform="translate(151,263.5) rotate(-78)">PLAY</text><text transform="translate(159.8,262.5) rotate(-78)">BACK</text></g>
<circle cx="116" cy="281.5" r="10.6" fill="#fff"/><circle cx="107.5" cy="296" r="9.8" fill="#fff"/><circle cx="124" cy="296" r="9.4" fill="#fff"/><circle cx="107.5" cy="315" r="9.8" fill="#fff"/><circle cx="124" cy="314" r="9.4" fill="#fff"/><circle cx="116" cy="327" r="9.8" fill="#fff"/><circle cx="116" cy="305" r="11" fill="#fff"/>
<path d="M100,295 H131 M100,322.5 H130" stroke="#cfe3ee" stroke-width="0.5" stroke-dasharray="1 0.8"/>
<text transform="translate(119,301.5) rotate(-84)" font-family="Liberation Sans, sans-serif" font-weight="bold" font-style="italic" font-size="8.4" fill="#1F72B8" text-anchor="middle" letter-spacing="0.3">RECORD</text>
<circle cx="142" cy="321" r="5.6" fill="#2579B6"/><circle cx="148" cy="337" r="12.5" fill="#2579B6"/><circle cx="153" cy="345" r="13" fill="#2579B6"/><circle cx="152" cy="353" r="11" fill="#2579B6"/><circle cx="147" cy="344" r="11.5" fill="#2579B6"/>
<path d="M139,326 Q143,329 146,324 L150,328 L141,334 Z" fill="#2579B6"/>
<circle cx="140.8" cy="320.2" r="2" fill="#E6F1FA"/>
<text transform="translate(154.5,340.5) rotate(-78)" font-family="Liberation Sans, sans-serif" font-weight="bold" font-style="italic" font-size="9.2" fill="#FBE84E" text-anchor="middle" letter-spacing="0.3">PLAY</text>
<circle cx="135.5" cy="381" r="11.8" fill="#F8B6D2"/><circle cx="124.8" cy="390.5" r="10.2" fill="#F8B6D2"/><circle cx="138.5" cy="392.5" r="9.6" fill="#F8B6D2"/><circle cx="129" cy="398.5" r="9.2" fill="#F8B6D2"/><circle cx="122" cy="404.8" r="5" fill="#F8B6D2"/><circle cx="132" cy="388" r="10" fill="#F8B6D2"/>
<circle cx="122.6" cy="405.6" r="2" fill="#FDEAF2"/>
<g font-family="Liberation Sans, sans-serif" font-weight="bold" font-style="italic" font-size="3.8" fill="#fff" text-anchor="middle"><text transform="translate(129,388) rotate(-80)">ONE KEY</text><text transform="translate(135.5,387) rotate(-80)">ONE NOTE</text></g>
<circle cx="145.5" cy="416" r="9.2" fill="#fff"/><circle cx="138" cy="428" r="9" fill="#fff"/><circle cx="152.5" cy="430" r="8.2" fill="#fff"/><circle cx="138" cy="446" r="9" fill="#fff"/><circle cx="152.5" cy="446" r="8" fill="#fff"/><circle cx="146" cy="456" r="9.2" fill="#fff"/><circle cx="145" cy="437" r="10" fill="#fff"/>
<path d="M137,411.5 H153 M133,441.5 H157" stroke="#cfe3ee" stroke-width="0.5" stroke-dasharray="1 0.8"/>
<text transform="translate(148.8,436) rotate(-80)" font-family="Liberation Sans, sans-serif" font-weight="bold" font-style="italic" font-size="8.8" fill="#E5343A" text-anchor="middle" letter-spacing="0.2">DEMO</text>
<circle cx="135" cy="471.5" r="5" fill="#fff" stroke="#fff" stroke-width="2.6"/><circle cx="125" cy="484" r="10.5" fill="#fff" stroke="#fff" stroke-width="2.6"/><circle cx="131" cy="489" r="10.5" fill="#fff" stroke="#fff" stroke-width="2.6"/><circle cx="124" cy="493" r="8.5" fill="#fff" stroke="#fff" stroke-width="2.6"/><circle cx="130" cy="480" r="9" fill="#fff" stroke="#fff" stroke-width="2.6"/>
<circle cx="135" cy="471.5" r="5" fill="#FBEA62"/><circle cx="125" cy="484" r="10.5" fill="#FBEA62"/><circle cx="131" cy="489" r="10.5" fill="#FBEA62"/><circle cx="124" cy="493" r="8.5" fill="#FBEA62"/><circle cx="130" cy="480" r="9" fill="#FBEA62"/>
<circle cx="136" cy="470.3" r="1.8" fill="#FFFBD8"/>
<path d="M121,484.5 H134 M127.5,478 V491" stroke="#fff" stroke-width="2.8" stroke-linecap="round"/>
<circle cx="161" cy="473.5" r="4.8" fill="#fff" stroke="#fff" stroke-width="2.6"/><circle cx="158" cy="484" r="9.5" fill="#fff" stroke="#fff" stroke-width="2.6"/><circle cx="161" cy="490" r="10" fill="#fff" stroke="#fff" stroke-width="2.6"/><circle cx="157" cy="495" r="8" fill="#fff" stroke="#fff" stroke-width="2.6"/><circle cx="163" cy="482" r="8" fill="#fff" stroke="#fff" stroke-width="2.6"/>
<circle cx="161" cy="473.5" r="4.8" fill="#E8473D"/><circle cx="158" cy="484" r="9.5" fill="#E8473D"/><circle cx="161" cy="490" r="10" fill="#E8473D"/><circle cx="157" cy="495" r="8" fill="#E8473D"/><circle cx="163" cy="482" r="8" fill="#E8473D"/>
<circle cx="162" cy="472.3" r="1.7" fill="#FBD5D0"/>
<path d="M159,479 V492" stroke="#fff" stroke-width="2.5" stroke-linecap="round"/>
<path d="M30.6,314 Q30.6,306.6 38,306.4 L79,306.9 Q85,307.2 85.6,313 C89,335 89.6,392 86.2,409.5 Q85,416 79,416.2 L38.5,416.8 Q30.8,416.6 30.6,408.5 Z" fill="#E6B800"/>
<path d="M31.3,314 Q31.3,307.3 38,307.1 L79,307.6 Q84.2,307.8 84.8,313 C88.2,335 88.8,390 85.4,406.5 Q84.2,413 78.5,413.2 L38.5,413.6 Q31.6,413.4 31.4,406.5 Z" fill="#FFE11C"/>
<path d="M33,309.5 L82,309.8" stroke="#FFF3A0" stroke-width="1.2" opacity="0.8"/>
<circle cx="56.5" cy="330" r="18.2" fill="#FFEB55" stroke="#F0C500" stroke-width="0.9"/><circle cx="56.5" cy="330" r="14.6" fill="#FFDA1A" stroke="#F5CC00" stroke-width="0.6"/>
<clipPath id="grill"><circle cx="56.5" cy="330" r="13.2"/></clipPath><g clip-path="url(#grill)" stroke="#F3C200" stroke-width="1.5">
<path d="M9.6,314 L35.6,346"/>
<path d="M14.0,314 L40.0,346"/>
<path d="M18.4,314 L44.4,346"/>
<path d="M22.8,314 L48.8,346"/>
<path d="M27.2,314 L53.2,346"/>
<path d="M31.6,314 L57.6,346"/>
<path d="M36.0,314 L62.0,346"/>
<path d="M40.4,314 L66.4,346"/>
<path d="M44.8,314 L70.8,346"/>
<path d="M49.2,314 L75.2,346"/>
<path d="M53.6,314 L79.6,346"/>
<path d="M58.0,314 L84.0,346"/>
<path d="M62.4,314 L88.4,346"/>
</g>
<path d="M36,356 L51.7,357.8 Q56,382 63,407 L38,405.6 Q35,380 36,356 Z" fill="#2B9FE2" stroke="#FFF6A8" stroke-width="0.8"/>
<path d="M38,362 Q48,372 44,386 Q42,396 50,404" stroke="#6CC7F3" stroke-width="2.2" fill="none" opacity="0.8"/>
<circle cx="44.5" cy="373" r="1.3" fill="#F7A21A"/>
<circle cx="42" cy="383.5" r="1.3" fill="#F5E02A"/>
<circle cx="47" cy="392.5" r="1.3" fill="#E8303A"/>
<circle cx="53" cy="396" r="1.3" fill="#46B548"/>
<circle cx="50" cy="380" r="1.3" fill="#FFF06A"/>
<circle cx="55" cy="403" r="1.3" fill="#E8303A"/>
<circle cx="43" cy="398" r="1.3" fill="#F5E02A"/>
<circle cx="49" cy="365" r="1.3" fill="#E8503A"/>
<ellipse cx="75" cy="359.5" rx="3" ry="5" fill="#F0BF00"/><ellipse cx="75.3" cy="359.5" rx="1.8" ry="3.6" fill="#FFD21A"/>
<g fill="none" stroke="#0d0d0d" stroke-width="1.6">
<path d="M52,134 V291.3 H98.5"/>
<path d="M123.3,167.5 V222.5"/>
<path d="M188.5,170 V251 H162"/>
<path d="M228.7,117 V346.4 H165"/>
<path d="M274.5,162.8 H255.25 V347.5"/>
<path d="M377.9,159 V340"/>
<path d="M509,164 V344"/>
<path d="M645,174 V335.4"/>
<path d="M305.8,390.7 V566"/>
<path d="M447.8,394 V557"/>
<path d="M575,392.6 V552"/>
<path d="M709,392 V552"/>
<path d="M140.8,501.5 V558.5"/>
<path d="M146,393 H199.7 V584.5"/>
<path d="M130,436 H65.6 V604.5"/>
</g>
<g font-family="DejaVu Sans, Liberation Sans, sans-serif" fill="#151515">
<text x="-0.17" y="117" font-size="13.6" textLength="99.58" lengthAdjust="spacingAndGlyphs">Режим записи</text>
<text x="143.62" y="91.7" font-size="10.8" textLength="151.27" lengthAdjust="spacingAndGlyphs">Воспроизведение функции</text>
<text x="100.88" y="131.9" font-size="11.4" textLength="154.14" lengthAdjust="spacingAndGlyphs">Воспроизведение записи</text>
<text x="78.03" y="149" font-size="10.5" textLength="85.15" lengthAdjust="spacingAndGlyphs">Переключатель</text>
<text x="274.18" y="162.9" font-size="13.8" textLength="56.32" lengthAdjust="spacingAndGlyphs">Флейта</text>
<text x="340.87" y="145.6" font-size="21.5" textLength="67.52" lengthAdjust="spacingAndGlyphs">Гобои</text>
<text x="456.01" y="146.6" font-size="17.5" textLength="89.50" lengthAdjust="spacingAndGlyphs">Саксофон</text>
<text x="597.99" y="155.5" font-size="18.6" textLength="83.41" lengthAdjust="spacingAndGlyphs">Скрипка</text>
<text x="63.12" y="571" font-size="11.2" textLength="119.85" lengthAdjust="spacingAndGlyphs">Контроль громкости</text>
<text x="120.34" y="603.8" font-size="10.7" textLength="134.46" lengthAdjust="spacingAndGlyphs">Режим воспроизведения</text>
<text x="0.03" y="617.6" font-size="10.8" textLength="152.46" lengthAdjust="spacingAndGlyphs">Модель демонстрационной</text>
<text x="0.10" y="624.4" font-size="10.8" textLength="27.82" lengthAdjust="spacingAndGlyphs">зоны</text>
<text x="269.64" y="582.6" font-size="17.2" textLength="66.27" lengthAdjust="spacingAndGlyphs">Гитара</text>
<text x="398.51" y="572.8" font-size="14.6" textLength="94.30" lengthAdjust="spacingAndGlyphs">Ксилофоны</text>
<text x="518.20" y="572" font-size="19.5" textLength="106.77" lengthAdjust="spacingAndGlyphs">Аккордеон</text>
<text x="658.78" y="568.7" font-size="14.3" textLength="95.19" lengthAdjust="spacingAndGlyphs">Фортепиано</text>
</g>
<g font-family="DejaVu Sans, Liberation Sans, sans-serif" font-size="12" fill="#FA1C1C"><text x="1.00" y="686" textLength="94.13" lengthAdjust="spacingAndGlyphs">Автоматическое</text> <text x="99.20" y="686" textLength="70.94" lengthAdjust="spacingAndGlyphs">отключение</text> <text x="174.23" y="686" textLength="34.53" lengthAdjust="spacingAndGlyphs">через</text> <text x="211.92" y="686" textLength="7.04" lengthAdjust="spacingAndGlyphs">3</text> <text x="222.15" y="686" textLength="45.67" lengthAdjust="spacingAndGlyphs">минуты</text> <text x="269.85" y="686" textLength="63.08" lengthAdjust="spacingAndGlyphs">ожидания,</text> <text x="337.19" y="686" textLength="52.09" lengthAdjust="spacingAndGlyphs">нажмите</text> <text x="393.11" y="686" textLength="39.66" lengthAdjust="spacingAndGlyphs">кнопку</text> <text x="437.06" y="686" textLength="65.88" lengthAdjust="spacingAndGlyphs">ВКЛ/ВЫКЛ,</text> <text x="506.18" y="686" textLength="34.45" lengthAdjust="spacingAndGlyphs">чтобы</text> <text x="544.08" y="686" textLength="87.14" lengthAdjust="spacingAndGlyphs">перезапустить</text> <text x="635.03" y="686" textLength="111.75" lengthAdjust="spacingAndGlyphs">воспроизведение.</text></g>
</svg>
</body></html>
